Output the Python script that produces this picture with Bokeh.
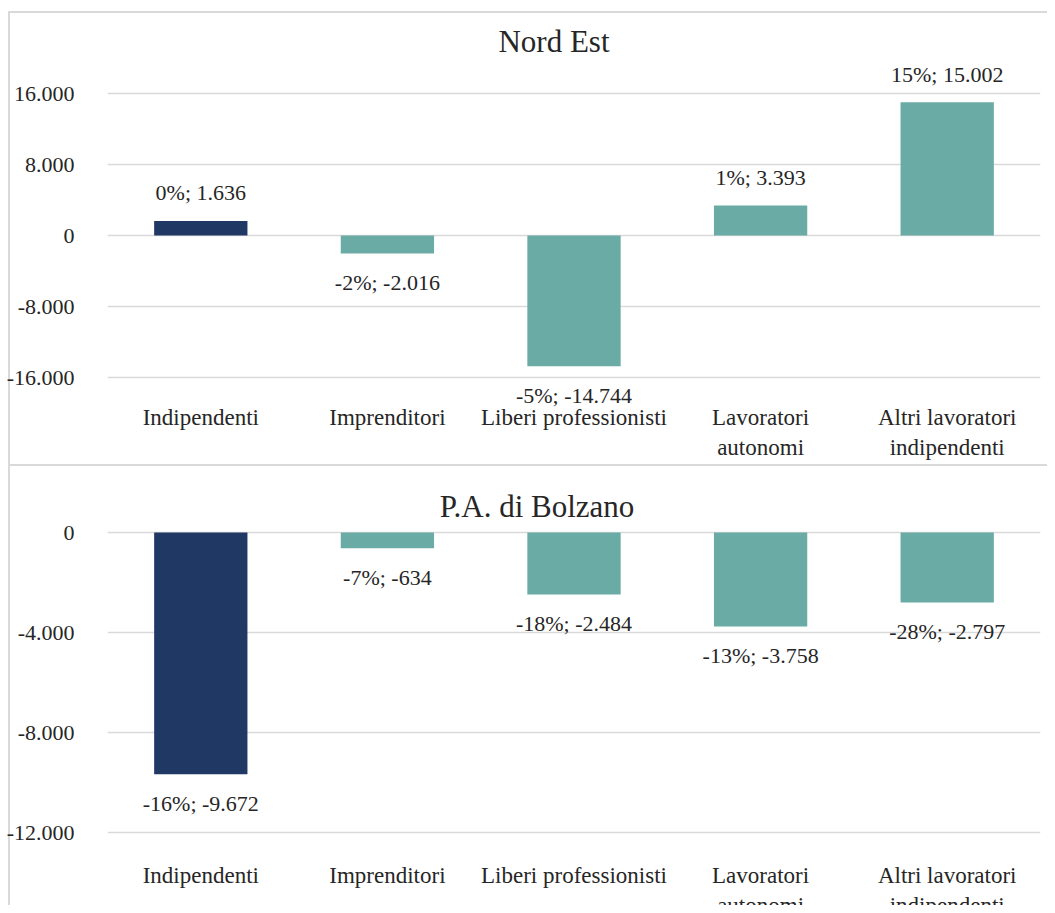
from bokeh.plotting import figure
from bokeh.models import ColumnDataSource, FactorRange, Range1d
from bokeh.layouts import column
from bokeh.embed import file_html
from bokeh.resources import INLINE
from bokeh.core.properties import value

# ---- data ----
categories = ["Indipendenti", "Imprenditori", "Liberi professionisti",
              "Lavoratori autonomi", "Altri lavoratori indipendenti"]
category_labels = ["Indipendenti", "Imprenditori", "Liberi professionisti",
                   "Lavoratori\nautonomi", "Altri lavoratori\nindipendenti"]
nord_est_pct = [0, -2, -5, 1, 15]
nord_est_val = [1636, -2016, -14744, 3393, 15002]
bolzano_pct = [-16, -7, -18, -13, -28]
bolzano_val = [-9672, -634, -2484, -3758, -2797]
nord_est_ticks = [-16000, -8000, 0, 8000, 16000]
bolzano_ticks = [-12000, -8000, -4000, 0]

# ---- style ----
FONT = "Liberation Serif"
NAVY = "#203864"
TEAL = "#6BABA5"
GRID = "#D9D9D9"
TXT = "#262626"
W = 1047
H_TOP = 465
H_BOTTOM = 440


def fmt(v):
    return f"{v:,}".replace(",", ".")


def panel(title, pcts, vals, ticks, zero_px, px_per_unit, height,
          title_dx, title_dy, cat_dy):
    y1 = zero_px / px_per_unit
    y0 = -(height - zero_px) / px_per_unit
    p = figure(x_range=FactorRange(*categories), y_range=Range1d(y0, y1),
               width=W, height=height, output_backend="svg",
               toolbar_location=None, x_axis_location=None,
               min_border_left=107, min_border_right=7,
               min_border_top=0, min_border_bottom=0)
    p.outline_line_color = None
    p.background_fill_color = None
    p.border_fill_color = None
    p.xgrid.visible = False
    p.ygrid.grid_line_color = GRID
    p.ygrid.grid_line_width = 1.5
    ax = p.yaxis[0]
    ax.ticker = ticks
    ax.major_label_overrides = {t: fmt(t) for t in ticks}
    ax.axis_line_color = None
    ax.major_tick_line_color = None
    ax.minor_tick_line_color = None
    ax.major_label_standoff = 27
    ax.major_label_text_font = FONT
    ax.major_label_text_font_size = "22px"
    ax.major_label_text_color = TXT

    colors = [NAVY] + [TEAL] * (len(vals) - 1)
    src = ColumnDataSource(dict(
        x=categories, top=vals, color=colors,
        label=[f"{pc}%; {fmt(v)}" for pc, v in zip(pcts, vals)],
        yoff=[-28 if v >= 0 else 29 for v in vals]))
    p.vbar(x="x", top="top", bottom=0, width=0.5, fill_color="color",
           line_color=None, source=src)
    p.text(x="x", y="top", text="label", y_offset="yoff", source=src,
           text_align="center", text_baseline="middle",
           text_font=value(FONT), text_font_size="22px", text_color=TXT)
    p.text(x=categories, y=[y0] * len(categories), text=category_labels,
           y_offset=cat_dy, text_align="center", text_baseline="top",
           text_line_height=1.2,
           text_font=value(FONT), text_font_size="23px", text_color=TXT)
    p.text(x=[categories[2]], y=[y1], text=[title], x_offset=title_dx,
           y_offset=title_dy, text_align="center", text_baseline="middle",
           text_font=value(FONT), text_font_size="31px", text_color=TXT)
    return p


top = panel("Nord Est", nord_est_pct, nord_est_val, nord_est_ticks,
            235, 284 / 32000, H_TOP, -20, 41, -61)
bottom = panel("P.A. di Bolzano", bolzano_pct, bolzano_val, bolzano_ticks,
               67, 100 / 4000, H_BOTTOM, -37, 41, -43)

# chart-area border lines painted as the page background behind the
# transparent canvases (left edge, top edge, separator between panels)
lg = f"linear-gradient({GRID}, {GRID})"
layout = column(top, bottom, spacing=0)
layout.styles = {
    "background-color": "white",
    "background-image": f"{lg}, {lg}, {lg}",
    "background-position": f"8px 11px, 8px 11px, 8px {H_TOP - 1}px",
    "background-size": f"2px {H_TOP + H_BOTTOM - 11}px, {W - 8}px 2px, {W - 8}px 2px",
    "background-repeat": "no-repeat",
}
open("out.html", "w").write(file_html(layout, INLINE))
